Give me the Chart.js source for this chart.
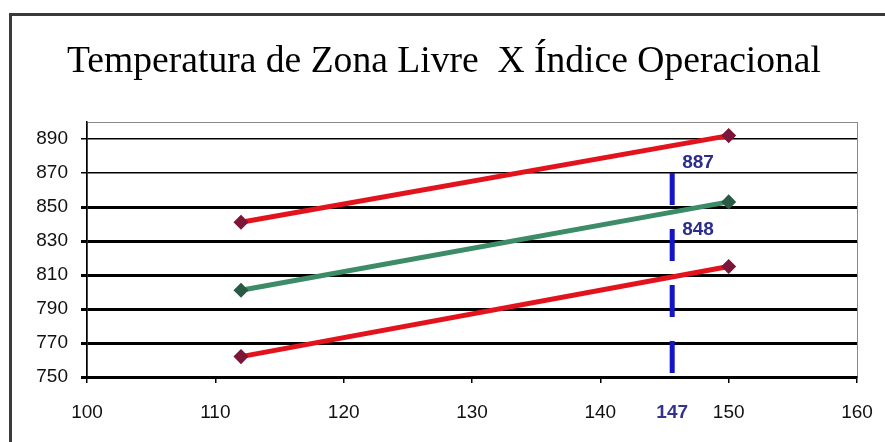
<!DOCTYPE html>
<html>
<head>
<meta charset="utf-8">
<script src="https://cdn.jsdelivr.net/npm/chart.js@4"></script>
<style>
  body { margin: 0; background: #fff; }
  #wrap { width: 885px; height: 442px; position: relative; }
</style>
</head>
<body>
<div id="wrap"><canvas id="myChart"></canvas></div>
<script>
// series data (x = índice operacional, y = temperatura)
const xValues = [112, 150];
const upperRed = [841, 892];
const middleGreen = [801, 853];
const lowerRed = [762, 815];

// ticks
const xTicks = [100, 110, 120, 130, 140, 150, 160];
const yTicks = [750, 770, 790, 810, 830, 850, 870, 890];

// marked operating point
const markX = 145.6;
const markLabel = '147';
const markRange = [870, 750];
const markValues = [887, 848];

const titleText = 'Temperatura de Zona Livre  X Índice Operacional';

const toPoints = (ys) => xValues.map((x, i) => ({ x: x, y: ys[i] }));

// outer frame, plot frame and the serif title
const framePlugin = {
    id: 'frame',
    beforeDraw(chart) {
        const { ctx, chartArea } = chart;
        ctx.save();
        ctx.fillStyle = '#fff';
        ctx.fillRect(0, 0, chart.width, chart.height);
        ctx.strokeStyle = '#3a3a3a';
        ctx.lineWidth = 3;
        ctx.strokeRect(10.5, 14.5, chart.width + 10, chart.height + 10);
        ctx.strokeStyle = '#8a8a8a';
        ctx.lineWidth = 1;
        ctx.strokeRect(chartArea.left + 0.5, chartArea.top + 0.5, chartArea.width, chartArea.height);

        ctx.font = '37px "Liberation Serif", "Times New Roman", serif';
        ctx.fillStyle = '#000';
        ctx.textAlign = 'left';
        ctx.textBaseline = 'alphabetic';
        ctx.translate(67, 72);
        ctx.scale(754 / ctx.measureText(titleText).width, 1);
        ctx.fillText(titleText, 0, 0);
        ctx.restore();
    }
};

// 887 / 848 labels beside the dashed line
const markLabelsPlugin = {
    id: 'markLabels',
    afterDatasetsDraw(chart) {
        const { ctx, scales } = chart;
        const px = scales.x.getPixelForValue(markX);
        ctx.save();
        ctx.font = 'bold 19px "Liberation Sans", Arial, sans-serif';
        ctx.fillStyle = '#2c2c8a';
        ctx.textAlign = 'left';
        ctx.textBaseline = 'middle';
        markValues.forEach(v => {
            ctx.fillText(String(v), px + 10, scales.y.getPixelForValue(v) + 19);
        });
        ctx.restore();
    }
};

const data = {
    datasets: [{
        label: 'Limite superior',
        data: toPoints(upperRed),
        borderColor: '#e2131d',
        borderWidth: 5,
        pointStyle: 'rectRot',
        pointRadius: 4,
        pointBackgroundColor: '#7d1538',
        pointBorderColor: '#7d1538',
    }, {
        label: 'Média',
        data: toPoints(middleGreen),
        borderColor: '#3c8c68',
        borderWidth: 5,
        pointStyle: 'rectRot',
        pointRadius: 4,
        pointBackgroundColor: '#2a5a45',
        pointBorderColor: '#2a5a45',
    }, {
        label: 'Limite inferior',
        data: toPoints(lowerRed),
        borderColor: '#e2131d',
        borderWidth: 5,
        pointStyle: 'rectRot',
        pointRadius: 4,
        pointBackgroundColor: '#7d1538',
        pointBorderColor: '#7d1538',
    }, {
        label: markLabel,
        data: markRange.map(y => ({ x: markX, y: y })),
        borderColor: '#1515c8',
        borderWidth: 5,
        borderDash: [32, 24],
        borderCapStyle: 'butt',
        pointRadius: 0,
    }]
};

const tickFont = { family: '"Liberation Sans", Arial, sans-serif', size: 19 };

const config = {
    type: 'line',
    data: data,
    plugins: [framePlugin, markLabelsPlugin],
    options: {
        responsive: true,
        maintainAspectRatio: false,
        animation: false,
        layout: { padding: { left: 0, right: 28, top: 122, bottom: 0 } },
        plugins: {
            legend: { display: false },
            tooltip: { enabled: false },
            title: { display: false }
        },
        scales: {
            x: {
                type: 'linear',
                min: 100,
                max: 160,
                afterBuildTicks: (scale) => {
                    scale.ticks = xTicks.concat([markX]).map(v => ({ value: v }));
                },
                afterFit: (scale) => { scale.height = 65; },
                ticks: {
                    autoSkip: false,
                    maxRotation: 0,
                    padding: 18,
                    font: (c) => c.tick && c.tick.value === markX ? Object.assign({}, tickFont, { weight: 'bold' }) : tickFont,
                    color: (c) => c.tick && c.tick.value === markX ? '#34348f' : '#111',
                    callback: (value) => value === markX ? markLabel : String(value)
                },
                grid: {
                    drawOnChartArea: false,
                    tickLength: 6,
                    lineWidth: 1.5,
                    color: (c) => c.tick && c.tick.value === markX ? 'rgba(0,0,0,0)' : '#000'
                },
                border: { color: '#000', width: 3 }
            },
            y: {
                min: 750,
                max: 900,
                afterBuildTicks: (scale) => {
                    scale.ticks = yTicks.map(v => ({ value: v }));
                },
                afterFit: (scale) => { scale.width = 87; },
                ticks: {
                    padding: 13,
                    font: tickFont,
                    color: '#111'
                },
                grid: {
                    color: '#000',
                    tickLength: 6,
                    lineWidth: (c) => c.tick && c.tick.value >= 870 ? 1.5 : 3
                },
                border: { color: '#000', width: 1.5 }
            }
        }
    }
};

const myChart = new Chart(document.getElementById('myChart'), config);
</script>
</body>
</html>
